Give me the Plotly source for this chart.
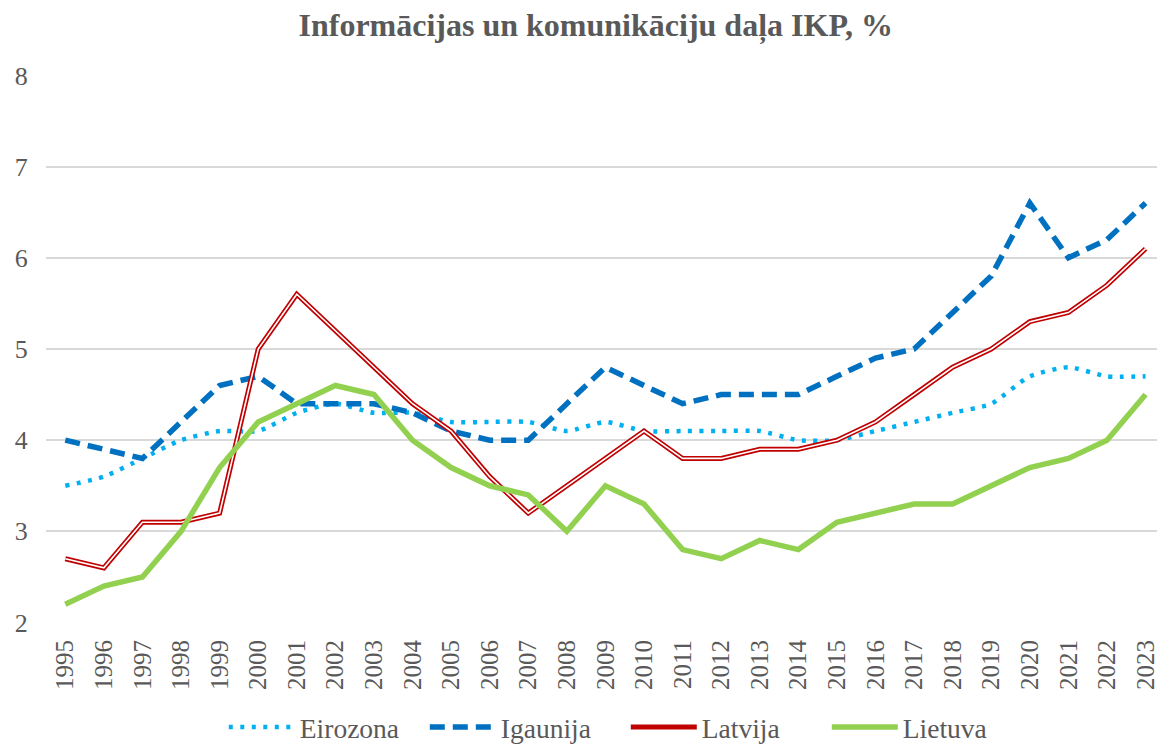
import plotly.graph_objects as go

years = [str(y) for y in range(1995, 2024)]
eirozona = [3.5, 3.6, 3.8, 4.0, 4.1, 4.1, 4.3, 4.4, 4.3, 4.3, 4.2, 4.2, 4.2, 4.1, 4.2, 4.1, 4.1, 4.1, 4.1, 4.0, 4.0, 4.1, 4.2, 4.3, 4.4, 4.7, 4.8, 4.7, 4.7]
igaunija = [4.0, 3.9, 3.8, 4.2, 4.6, 4.7, 4.4, 4.4, 4.4, 4.3, 4.1, 4.0, 4.0, 4.4, 4.8, 4.6, 4.4, 4.5, 4.5, 4.5, 4.7, 4.9, 5.0, 5.4, 5.8, 6.6, 6.0, 6.2, 6.6]
latvija = [2.7, 2.6, 3.1, 3.1, 3.2, 5.0, 5.6, 5.2, 4.8, 4.4, 4.1, 3.6, 3.2, 3.5, 3.8, 4.1, 3.8, 3.8, 3.9, 3.9, 4.0, 4.2, 4.5, 4.8, 5.0, 5.3, 5.4, 5.7, 6.1]
lietuva = [2.2, 2.4, 2.5, 3.0, 3.7, 4.2, 4.4, 4.6, 4.5, 4.0, 3.7, 3.5, 3.4, 3.0, 3.5, 3.3, 2.8, 2.7, 2.9, 2.8, 3.1, 3.2, 3.3, 3.3, 3.5, 3.7, 3.8, 4.0, 4.5]

fig = go.Figure()
fig.add_trace(go.Scatter(x=years, y=eirozona, name="Eirozona", mode="lines",
                         line=dict(color="#00B0F0", width=4.5, dash="4px,7.5px", shape="spline", smoothing=0.6)))
fig.add_trace(go.Scatter(x=years, y=igaunija, name="Igaunija", mode="lines",
                         line=dict(color="#0070C0", width=5.5, dash="15px,8px")))
fig.add_trace(go.Scatter(x=years, y=latvija, name="Latvija", mode="lines",
                         line=dict(color="#C00000", width=5), legendgroup="lv"))
fig.add_trace(go.Scatter(x=years, y=latvija, name="Latvija", mode="lines", showlegend=False,
                         line=dict(color="white", width=1.6), legendgroup="lv", hoverinfo="skip"))
fig.add_trace(go.Scatter(x=years, y=lietuva, name="Lietuva", mode="lines",
                         line=dict(color="#92D050", width=5.5)))

# page has an 8px body margin; figure coordinates are offset accordingly
W, H = 1157, 738
fig.update_layout(
    width=W, height=H,
    margin=dict(l=38, r=4, t=67, b=123, autoexpand=False),
    paper_bgcolor="white", plot_bgcolor="white",
    font=dict(family="Liberation Serif, Times New Roman, serif", color="#595959", size=25),
    title=dict(text="<b>Informācijas un komunikāciju daļa IKP, %</b>", x=0.508, xanchor="center",
               y=1 - 17 / H, yanchor="middle", font=dict(size=32, color="#595959")),
    xaxis=dict(type="category", range=[-0.5, 28.4], tickangle=-90, showgrid=False,
               ticks="outside", ticklen=6, tickcolor="white", showline=False,
               tickfont=dict(size=25, color="#595959")),
    yaxis=dict(range=[1.995, 8.005], dtick=1, showgrid=True, gridcolor="#D9D9D9", gridwidth=2,
               zeroline=False, showline=False, tickfont=dict(size=26, color="#595959"), ticklen=12,
               ticks="outside", tickcolor="white"),
    legend=dict(orientation="h", x=0.52, xanchor="center", yref="container", y=1 - 719 / H,
                yanchor="middle", font=dict(size=27.5, color="#595959"), itemwidth=66,
                tracegroupgap=0, entrywidth=120, entrywidthmode="pixels"),
    showlegend=True,
)

fig.write_html("out.html")
